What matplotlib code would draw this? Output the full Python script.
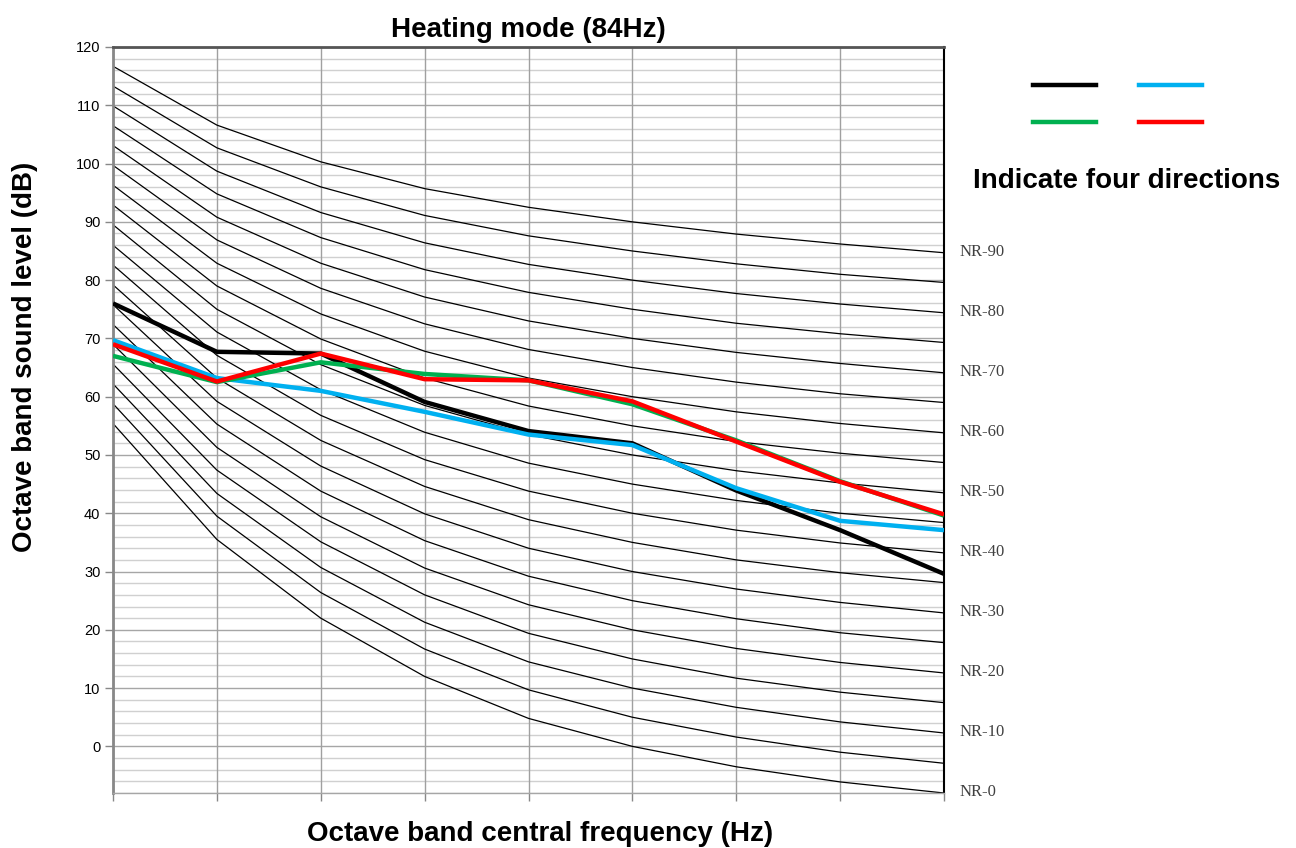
import matplotlib
matplotlib.use("Agg")
import matplotlib.pyplot as plt
from matplotlib.lines import Line2D
import numpy as np

# Octave band centre frequencies (Hz) - not labelled on the chart
freqs = ["31.5", "63", "125", "250", "500", "1k", "2k", "4k", "8k"]

# NR rating curves (dB), NR-0 .. NR-90 in steps of 5
nr_levels = [0, 5, 10, 15, 20, 25, 30, 35, 40, 45, 50, 55, 60, 65, 70, 75, 80, 85, 90]
nr_curves = [
    [55.4, 35.5, 22.0, 12.0, 4.8, 0.0, -3.5, -6.1, -8.0],
    [58.8, 39.5, 26.4, 16.7, 9.7, 5.0, 1.6, -1.0, -2.9],
    [62.2, 43.4, 30.7, 21.3, 14.5, 10.0, 6.7, 4.2, 2.3],
    [65.6, 47.4, 35.1, 26.0, 19.4, 15.0, 11.7, 9.3, 7.5],
    [69.0, 51.3, 39.4, 30.6, 24.3, 20.0, 16.8, 14.4, 12.6],
    [72.4, 55.3, 43.8, 35.3, 29.2, 25.0, 21.9, 19.5, 17.8],
    [75.8, 59.2, 48.1, 39.9, 34.0, 30.0, 27.0, 24.7, 22.9],
    [79.2, 63.2, 52.5, 44.6, 38.9, 35.0, 32.0, 29.8, 28.1],
    [82.6, 67.1, 56.8, 49.2, 43.8, 40.0, 37.1, 34.9, 33.2],
    [86.0, 71.1, 61.2, 53.9, 48.6, 45.0, 42.2, 40.0, 38.4],
    [89.5, 75.0, 65.5, 58.5, 53.5, 50.0, 47.3, 45.2, 43.5],
    [92.9, 79.0, 69.9, 63.2, 58.4, 55.0, 52.3, 50.3, 48.7],
    [96.3, 82.9, 74.2, 67.8, 63.2, 60.0, 57.4, 55.4, 53.8],
    [99.7, 86.9, 78.6, 72.5, 68.1, 65.0, 62.5, 60.5, 59.0],
    [103.1, 90.8, 82.9, 77.1, 73.0, 70.0, 67.6, 65.7, 64.1],
    [106.5, 94.8, 87.3, 81.8, 77.9, 75.0, 72.6, 70.8, 69.3],
    [109.9, 98.7, 91.6, 86.4, 82.7, 80.0, 77.7, 75.9, 74.4],
    [113.3, 102.7, 96.0, 91.1, 87.6, 85.0, 82.8, 81.0, 79.6],
    [116.7, 106.6, 100.3, 95.7, 92.5, 90.0, 87.9, 86.2, 84.7],
]

# Measured levels in four directions (dB)
dir_black = [76.0, 67.7, 67.4, 59.1, 54.1, 52.0, 43.9, 37.1, 29.6]
dir_blue = [69.7, 63.2, 61.0, 57.4, 53.5, 51.7, 44.3, 38.7, 37.1]
dir_green = [67.0, 62.5, 65.9, 63.9, 62.8, 58.7, 52.5, 45.5, 39.6]
dir_red = [69.0, 62.6, 67.4, 63.0, 62.8, 59.2, 52.3, 45.4, 39.8]

y_ticks = [0, 10, 20, 30, 40, 50, 60, 70, 80, 90, 100, 110, 120]

plt.rcParams['font.family'] = ['Liberation Sans', 'DejaVu Sans']

fig = plt.figure(figsize=(12.96, 8.48), dpi=100)
ax = fig.add_axes([113/1296, 1 - 793/848, (944-113)/1296, (793-47)/848])

x = np.arange(len(freqs))
ax.set_xlim(0, len(freqs) - 1)
ax.set_ylim(-8, 120)

# grid
for v in np.arange(-8, 121, 2):
    if v % 10 == 0:
        ax.axhline(v, color='#a6a6a6', lw=1.0, zorder=0)
    else:
        ax.axhline(v, color='#d0d0d0', lw=1.0, zorder=0)
for xi in x:
    ax.axvline(xi, color='#a0a0a0', lw=1.0, zorder=0)

# NR curves
for lvl, curve in zip(nr_levels, nr_curves):
    ax.plot(x, curve, color='black', lw=0.9, zorder=2)
    if lvl % 10 == 0:
        ax.annotate(f"NR-{lvl}", xy=(x[-1], curve[-1] + 0.2), xytext=(11, 0),
                    textcoords='offset points', ha='left', va='center',
                    fontsize=12, family='Liberation Serif', color='#404040',
                    annotation_clip=False)

# direction series
series = [(dir_black, 'black'), (dir_blue, '#00B0F0'),
          (dir_green, '#00B050'), (dir_red, '#FF0000')]
for vals, col in series:
    ax.plot(x, vals, color=col, lw=3.2, zorder=3, solid_capstyle='butt')

ax.set_yticks(y_ticks)
ax.set_yticklabels([str(t) for t in y_ticks], fontsize=10.5)
ax.set_xticks(x)
ax.set_xticklabels([])
ax.tick_params(axis='y', length=6, width=1, color='#888888', pad=3)
ax.tick_params(axis='x', length=6, width=1, color='#888888')

ax.spines['top'].set_color('#555555')
ax.spines['top'].set_linewidth(2)
ax.spines['left'].set_color('#888888')
ax.spines['left'].set_linewidth(2)
ax.spines['right'].set_color('black')
ax.spines['right'].set_linewidth(1.5)
ax.spines['bottom'].set_color('#a6a6a6')
ax.spines['bottom'].set_linewidth(1)

fig.text(528/1296, 1 - 30/848, "Heating mode (84Hz)", ha='center', va='center',
         fontsize=20, fontweight='bold')
fig.text(540/1296, 1 - 834/848, "Octave band central frequency (Hz)", ha='center',
         va='center', fontsize=20, fontweight='bold')
fig.text(25/1296, 1 - 357/848, "Octave band sound level (dB)", ha='center',
         va='center', rotation=90, fontsize=20, fontweight='bold')
fig.text(1127/1296, 1 - 181/848, "Indicate four directions", ha='center',
         va='center', fontsize=20, fontweight='bold')

# legend keys (no labels)
key_pos = [(1033, 85), (1139, 85), (1033, 122), (1139, 122)]
for (vals, col), (px, py) in zip(series, key_pos):
    fig.add_artist(Line2D([px/1296, (px+63)/1296], [1-py/848, 1-py/848],
                          color=col, lw=3.2, transform=fig.transFigure))

fig.savefig("out.png", dpi=100)
